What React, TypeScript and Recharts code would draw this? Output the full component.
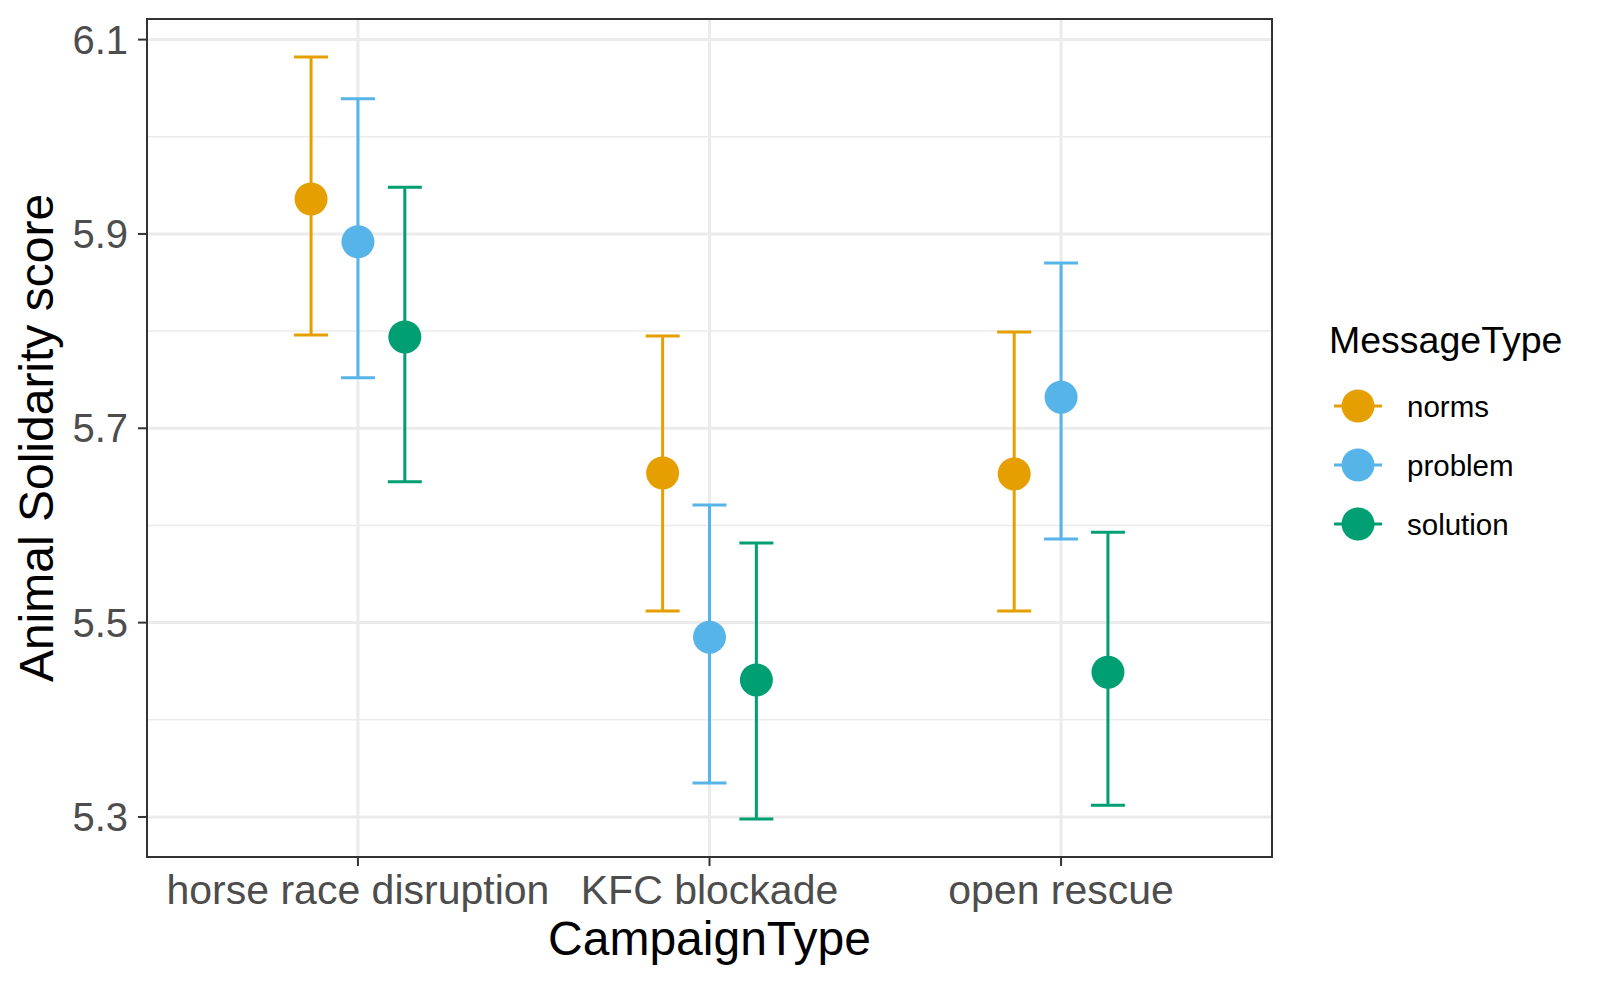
import {
  CartesianGrid,
  ComposedChart,
  ErrorBar,
  Label,
  Legend,
  ReferenceArea,
  Scatter,
  XAxis,
  YAxis,
} from "recharts";

const CAMPAIGNS = ["horse race disruption", "KFC blockade", "open rescue"];

// means and interval ends per campaign
const NORMS_MEAN = [5.936, 5.654, 5.653];
const NORMS_LOW = [5.796, 5.512, 5.512];
const NORMS_HIGH = [6.082, 5.795, 5.799];

const PROBLEM_MEAN = [5.892, 5.485, 5.732];
const PROBLEM_LOW = [5.752, 5.335, 5.586];
const PROBLEM_HIGH = [6.039, 5.621, 5.87];

const SOLUTION_MEAN = [5.794, 5.441, 5.449];
const SOLUTION_LOW = [5.645, 5.298, 5.312];
const SOLUTION_HIGH = [5.948, 5.582, 5.593];

const Y_TICKS = [5.3, 5.5, 5.7, 5.9, 6.1];
const Y_MINOR = [5.4, 5.6, 5.8, 6.0];

const SERIES = [
  { name: "norms", color: "#E69F00", mean: NORMS_MEAN, low: NORMS_LOW, high: NORMS_HIGH },
  { name: "problem", color: "#56B4E9", mean: PROBLEM_MEAN, low: PROBLEM_LOW, high: PROBLEM_HIGH },
  { name: "solution", color: "#009E73", mean: SOLUTION_MEAN, low: SOLUTION_LOW, high: SOLUTION_HIGH },
];

const FONT = "'Liberation Sans', Arial, Helvetica, sans-serif";
const DODGE = 0.4;
const POINT_R = 16.5;

function rowsFor(i: number) {
  const s = SERIES[i];
  const shift = (i - (SERIES.length - 1) / 2) * (DODGE / SERIES.length);
  return CAMPAIGNS.map((c, j) => ({
    campaign: c,
    x: j + 1 + shift,
    mean: s.mean[j],
    err: [s.mean[j] - s.low[j], s.high[j] - s.mean[j]],
  }));
}

// ggplot-style 5% expansion of the data range
const allLow = Math.min(...SERIES.flatMap((s) => s.low));
const allHigh = Math.max(...SERIES.flatMap((s) => s.high));
const pad = (allHigh - allLow) * 0.05;
const Y_DOMAIN: [number, number] = [allLow - pad, allHigh + pad];
const X_DOMAIN: [number, number] = [0.4, 3.6];

function LegendBox() {
  return (
    <svg width={280} height={260} style={{ fontFamily: FONT }}>
      <text x={9} y={53} fontSize={37.5} fill="#000">
        MessageType
      </text>
      {SERIES.map((s, i) => {
        const cy = 106 + i * 59;
        return (
          <g key={s.name}>
            <line x1={14} x2={62} y1={cy} y2={cy} stroke={s.color} strokeWidth={3} />
            <circle cx={38} cy={cy} r={POINT_R} fill={s.color} />
            <text x={87} y={cy + 10.5} fontSize={29.5} fill="#000">
              {s.name}
            </text>
          </g>
        );
      })}
    </svg>
  );
}

export default function App() {
  return (
    <div style={{ position: "absolute", left: 0, top: 0, width: 1600, height: 984, background: "#fff" }}>
      <ComposedChart
        width={1600}
        height={984}
        margin={{ top: 19, right: 328, bottom: 0, left: 0 }}
        style={{ fontFamily: FONT }}
      >
        <CartesianGrid
          stroke="#EBEBEB"
          strokeWidth={1.5}
          horizontalValues={Y_MINOR}
          vertical={false}
        />
        <CartesianGrid stroke="#EBEBEB" strokeWidth={3} horizontalValues={Y_TICKS} verticalValues={[1, 2, 3]} />
        <XAxis
          type="number"
          dataKey="x"
          domain={X_DOMAIN}
          ticks={[1, 2, 3]}
          interval={0}
          allowDataOverflow
          height={127}
          tickSize={9}
          tickMargin={9}
          axisLine={false}
          tickLine={{ stroke: "#333333", strokeWidth: 2 }}
          tick={{ fontSize: 41, fill: "#4D4D4D" }}
          tickFormatter={(v) => CAMPAIGNS[Math.round(Number(v)) - 1] ?? ""}
        >
          <Label
            content={({ viewBox }: any) => (
              <text
                x={viewBox.x + viewBox.width / 2}
                y={viewBox.y + 98}
                textAnchor="middle"
                fontSize={48}
                fill="#000"
              >
                CampaignType
              </text>
            )}
          />
        </XAxis>
        <YAxis
          type="number"
          dataKey="mean"
          domain={Y_DOMAIN}
          ticks={Y_TICKS}
          interval={0}
          allowDataOverflow
          width={147}
          tickSize={9}
          tickMargin={10}
          axisLine={false}
          tickLine={{ stroke: "#333333", strokeWidth: 2 }}
          tick={{ fontSize: 40, fill: "#4D4D4D" }}
          tickFormatter={(v) => Number(v).toFixed(1)}
        >
          <Label
            content={({ viewBox }: any) => {
              const cx = viewBox.x + 53;
              const cy = viewBox.y + viewBox.height / 2;
              return (
                <text
                  x={cx}
                  y={cy}
                  transform={`rotate(-90 ${cx} ${cy})`}
                  textAnchor="middle"
                  fontSize={48}
                  fill="#000"
                >
                  Animal Solidarity score
                </text>
              );
            }}
          />
        </YAxis>
        <ReferenceArea
          x1={X_DOMAIN[0]}
          x2={X_DOMAIN[1]}
          y1={Y_DOMAIN[0]}
          y2={Y_DOMAIN[1]}
          fill="none"
          stroke="#333333"
          strokeWidth={2}
          ifOverflow="visible"
        />
        {SERIES.map((s, i) => (
          <Scatter
            key={s.name}
            name={s.name}
            data={rowsFor(i)}
            fill={s.color}
            isAnimationActive={false}
            shape={(p: any) => <circle cx={p.cx} cy={p.cy} r={POINT_R} fill={s.color} />}
          >
            <ErrorBar
              dataKey="err"
              direction="y"
              width={17}
              stroke={s.color}
              strokeWidth={3}
              isAnimationActive={false}
            />
          </Scatter>
        ))}
        <Legend
          layout="vertical"
          align="center"
          verticalAlign="middle"
          wrapperStyle={{ position: "absolute", left: 1320, top: 300, width: 280, height: 260 }}
          content={() => <LegendBox />}
        />
      </ComposedChart>
    </div>
  );
}
